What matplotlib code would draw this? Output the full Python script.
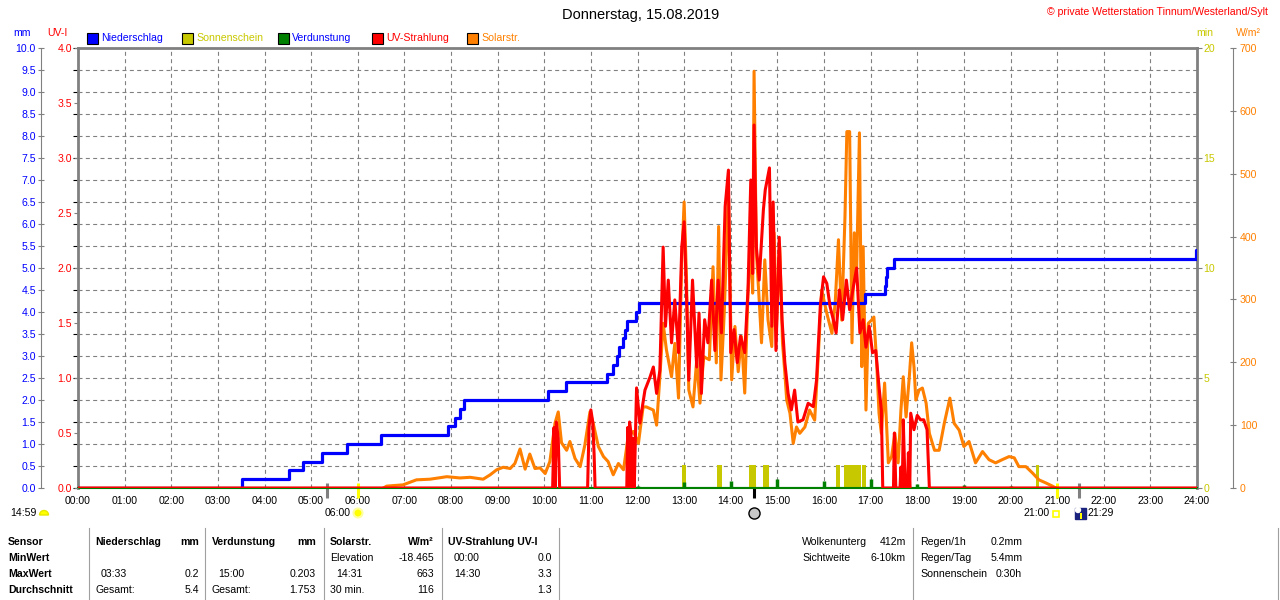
import numpy as np
import matplotlib.pyplot as plt
from matplotlib.patches import Rectangle, Circle, Wedge

W, H = 1280, 600

# x axis
hours = list(range(25))
hour_labels = [f"{h:02d}:00" for h in hours]

# Niederschlag, cumulative mm (step times in decimal hours)
rain_time = [0, 3.52, 4.53, 4.83, 5.23, 5.78, 6.49, 7.94, 8.09, 8.19, 8.27,
             10.07, 10.47, 11.34, 11.48, 11.55, 11.60, 11.68, 11.73, 11.78,
             11.96, 12.03, 16.88, 17.31, 17.34, 17.36, 17.50, 23.97, 24.0]
rain_total = [0.0, 0.2, 0.4, 0.6, 0.8, 1.0, 1.2, 1.4, 1.6, 1.8, 2.0,
              2.2, 2.4, 2.6, 2.8, 3.0, 3.2, 3.4, 3.6, 3.8,
              4.0, 4.2, 4.4, 4.6, 4.8, 5.0, 5.2, 5.4, 5.4]

# Verdunstung, mm per hour
evap_time = list(range(1, 24))
evap_mm = [0.03, 0.03, 0.03, 0.03, 0.03, 0.03, 0.03, 0.03, 0.03, 0.03, 0.03, 0.04,
           0.13, 0.15, 0.20, 0.16, 0.20, 0.09, 0.06, 0.04, 0.03, 0.03, 0.03]

# Sonnenschein blocks (start, end in hours), minutes
sun_start = [12.95, 13.70, 14.39, 14.69, 16.26, 16.43, 16.82, 20.55]
sun_end = [13.04, 13.81, 14.54, 14.82, 16.34, 16.79, 16.90, 20.61]
sun_min = [1.05, 1.05, 1.05, 1.05, 1.05, 1.05, 1.05, 1.05]

# Solarstrahlung W/m2
solar_time = [6.55, 6.62, 6.97, 7.26, 7.55, 7.91, 8.19, 8.41, 8.69, 8.84, 8.98,
              9.12, 9.27, 9.37, 9.48, 9.59, 9.69, 9.80, 9.91, 10.02, 10.12,
              10.23, 10.30, 10.37, 10.48, 10.55, 10.66, 10.77, 10.87, 10.98,
              11.05, 11.16, 11.27, 11.37, 11.48, 11.59, 11.70, 11.80, 11.91,
              12.02, 12.12, 12.19, 12.34, 12.41, 12.48, 12.55, 12.62, 12.73,
              12.80, 12.88, 12.95, 13.00, 13.05, 13.10, 13.19, 13.27, 13.34,
              13.42, 13.54, 13.62, 13.69, 13.74, 13.79, 13.86, 13.95, 14.02,
              14.09, 14.16, 14.23, 14.30, 14.37, 14.43, 14.47, 14.50, 14.55,
              14.61, 14.66, 14.73, 14.80, 14.88, 14.93, 14.98, 15.05, 15.11,
              15.16, 15.20, 15.27, 15.34, 15.41, 15.48, 15.59, 15.69, 15.80,
              15.88, 15.95, 16.06, 16.17, 16.24, 16.31, 16.38, 16.45, 16.49,
              16.55, 16.60, 16.65, 16.70, 16.76, 16.81, 16.84, 16.90, 16.95,
              17.02, 17.07, 17.13, 17.18, 17.23, 17.30, 17.38, 17.45, 17.52,
              17.59, 17.65, 17.70, 17.76, 17.83, 17.88, 17.93, 17.97, 18.04,
              18.11, 18.19, 18.26, 18.37, 18.47, 18.58, 18.70, 18.79, 18.90,
              19.00, 19.11, 19.25, 19.40, 19.54, 19.68, 19.82, 19.97, 20.08,
              20.18, 20.33, 20.47, 20.61, 20.76, 20.90, 20.97]
solar_wm2 = [0, 3, 5, 13, 14, 18, 16, 17, 14, 21, 29,
             33, 31, 39, 62, 30, 54, 31, 32, 23, 42,
             103, 121, 72, 60, 74, 47, 34, 68, 121,
             103, 66, 50, 42, 21, 39, 29, 82, 90,
             71, 129, 129, 124, 100, 177, 262, 220, 177,
             230, 143, 363, 455, 336, 156, 129, 204, 135,
             209, 204, 352, 199, 416, 172, 278, 470, 172,
             257, 185, 241, 151, 310, 390, 310, 663, 374,
             299, 231, 363, 267, 225, 406, 257, 384, 231,
             183, 140, 119, 71, 97, 87, 97, 124, 108,
             214, 315, 278, 246, 294, 395, 267, 432, 567,
             567, 231, 406, 347, 565, 193, 384, 124, 262,
             267, 272, 199, 119, 87, 167, 40, 50, 87,
             40, 124, 177, 113, 177, 231, 193, 140, 156,
             159, 135, 87, 60, 60, 103, 143, 103, 92,
             66, 74, 40, 58, 45, 40, 45, 50, 48,
             34, 34, 24, 13, 8, 3, 0]

# UV-Strahlung UV-I
uv_time = [0, 10.18, 10.21, 10.23, 10.26, 10.30, 10.33,
           10.93, 10.96, 11.00, 11.04, 11.07, 11.09,
           11.77, 11.79, 11.81, 11.83, 11.86, 11.88, 11.91, 11.93,
           11.98, 12.05, 12.16, 12.27, 12.34, 12.41, 12.48, 12.55, 12.60,
           12.66, 12.73, 12.80, 12.88, 12.95, 13.00, 13.05, 13.10, 13.18,
           13.27, 13.32, 13.37, 13.44, 13.51, 13.59, 13.66, 13.73, 13.80,
           13.88, 13.95, 14.00, 14.07, 14.14, 14.21, 14.30, 14.37, 14.43,
           14.47, 14.50, 14.55, 14.61, 14.70, 14.74, 14.83, 14.88, 14.91,
           14.97, 15.04, 15.10, 15.16, 15.23, 15.30, 15.37, 15.44, 15.55,
           15.66, 15.77, 15.84, 15.92, 15.99, 16.06, 16.13, 16.20, 16.26,
           16.33, 16.40, 16.48, 16.55, 16.63, 16.70, 16.77, 16.84, 16.90,
           16.97, 17.04, 17.11, 17.18, 17.23, 17.26, 17.49, 17.51, 17.54,
           17.63, 17.65, 17.68, 17.70, 17.74, 17.79, 17.81, 17.84, 17.86,
           17.93, 18.00, 18.07, 18.14, 18.21, 18.26, 24.0]
uv_index = [0, 0, 0.55, 0, 0.6, 0.45, 0,
            0, 0.55, 0.71, 0.6, 0.3, 0,
            0, 0.55, 0, 0.6, 0.5, 0, 0.45, 0,
            0.91, 0.59, 0.89, 1.01, 1.10, 0.86, 1.07, 2.19, 1.47,
            1.89, 1.32, 1.71, 1.23, 2.19, 2.42, 1.77, 0.98, 1.89,
            1.10, 1.59, 0.86, 1.53, 1.32, 1.89, 1.25, 1.89, 1.41,
            2.56, 2.89, 1.23, 1.44, 1.14, 1.38, 1.23, 1.80, 2.80,
            1.95, 3.30, 2.19, 1.89, 2.53, 2.71, 2.91, 1.47, 2.60,
            1.25, 2.28, 1.53, 1.14, 0.86, 0.71, 0.89, 0.60, 0.62,
            0.77, 0.74, 0.98, 1.65, 1.92, 1.86, 1.65, 1.53, 1.41,
            1.80, 1.53, 1.89, 1.62, 1.83, 2.00, 1.41, 1.53, 1.28,
            1.47, 1.23, 1.25, 0.92, 0.71, 0, 0, 0.5, 0,
            0, 0.19, 0, 0.62, 0, 0, 0.32, 0, 0.68,
            0.53, 0.66, 0.62, 0.62, 0.53, 0, 0]

# sun / moon event marks below the time axis
event_time = [5.33, 6.0, 14.5, 21.0, 21.47]
event_color = ['#808080', '#FFFF00', '#000000', '#FFFF00', '#808080']

BLUE = '#0000FF'
RED = '#FF0000'
ORANGE = '#FF8000'
OLIVE = '#C8C800'
GREEN = '#008000'
GREY = '#808080'


def fx(px):
    return px / W


def fy(py):
    return 1 - py / H


def px_in(px, py):
    # pixel (from top-left) -> inches for dpi_scale_trans
    return px / 100, (H - py) / 100


plt.rcParams['font.family'] = ['Liberation Sans', 'DejaVu Sans']
FS = 7.6

fig = plt.figure(figsize=(12.8, 6.0), dpi=100)

ax = fig.add_axes([fx(78), fy(488), fx(1197) - fx(78), fy(48) - fy(488)])
ax.set_zorder(0)
ax.set_xlim(0, 24)
ax.set_ylim(0, 10)
ax.set_xticks(hours)
ax.set_xticklabels(hour_labels, fontsize=FS)
ax.set_yticks(np.arange(0, 10.01, 0.5))
ax.tick_params(axis='y', left=False, labelleft=False)
ax.tick_params(axis='x', length=0, pad=6)
ax.grid(True, color=GREY, linestyle=(0, (3.6, 3)), linewidth=0.8)
for s in ['top', 'left', 'right']:
    ax.spines[s].set(color=GREY, linewidth=2)
ax.spines['bottom'].set(color=GREEN, linewidth=1.5)


def twin(z):
    t = ax.twinx()
    t.set_zorder(z)
    t.patch.set_visible(False)
    for s in t.spines.values():
        s.set_visible(False)
    return t


ax_sun = twin(1)
ax_sol = twin(2)
ax_mm = twin(3)
ax_uv = twin(4)

# Sonnenschein (min), right axis on the frame
ax_sun.set_ylim(0, 20)
ax_sun.set_yticks([0, 5, 10, 15, 20])
ax_sun.tick_params(axis='y', colors=GREY, labelcolor=OLIVE, labelsize=FS,
                   direction='out', length=3.6, width=0.8, pad=1.2)
ax_sun.bar(sun_start, sun_min, width=np.subtract(sun_end, sun_start),
           align='edge', color=OLIVE, linewidth=0)

# Solarstrahlung, outer right axis
ax_sol.set_ylim(0, 700)
ax_sol.set_yticks(range(0, 701, 100))
ax_sol.spines['right'].set_visible(True)
ax_sol.spines['right'].set_position(('outward', 25.9))
ax_sol.spines['right'].set(color=GREY, linewidth=0.8)
ax_sol.tick_params(axis='y', colors=GREY, labelcolor=ORANGE, labelsize=FS,
                   direction='inout', length=5, width=0.8, pad=2.5)
ax_sol.plot(solar_time, solar_wm2, color=ORANGE, linewidth=2.2)

# Niederschlag / Verdunstung, outer left axis
ax_mm.set_ylim(0, 10)
ax_mm.yaxis.tick_left()
ax_mm.set_yticks(np.arange(0, 10.01, 0.5))
ax_mm.set_yticklabels([f"{v:.1f}" for v in np.arange(0, 10.01, 0.5)])
ax_mm.spines['left'].set_visible(True)
ax_mm.spines['left'].set_position(('outward', 26.6))
ax_mm.spines['left'].set(color=GREY, linewidth=0.8)
ax_mm.tick_params(axis='y', colors=GREY, labelcolor=BLUE, labelsize=FS,
                  direction='inout', length=5, width=0.8, pad=1.2)
ax_mm.axhline(0, color=GREEN, linewidth=1.5)
ax_mm.vlines(evap_time, 0, evap_mm, color=GREEN, linewidth=2.5)
ax_mm.step(rain_time, rain_total, where='post', color=BLUE, linewidth=2.3)

# UV index, inner left axis
ax_uv.set_ylim(0, 4)
ax_uv.yaxis.tick_left()
ax_uv.set_yticks(np.arange(0, 4.01, 0.5))
ax_uv.set_yticklabels([f"{v:.1f}" for v in np.arange(0, 4.01, 0.5)])
ax_uv.tick_params(axis='y', colors=GREY, labelcolor=RED, labelsize=FS,
                  direction='out', length=3, width=0.8, pad=1.2)
ax_uv.plot(uv_time, uv_index, color=RED, linewidth=2.2)

# event ticks under the axis
ax.vlines(event_time, -0.22, 0.12, colors=event_color, linewidth=2.2, clip_on=False)
ax.plot([14.5], [-0.57], 'o', ms=8, mfc='#C8C8C8', mec='black', mew=1, clip_on=False)

# axis unit labels
fig.text(fx(22), fy(33), 'mm', color=BLUE, fontsize=FS, ha='center', va='center')
fig.text(fx(57), fy(33), 'UV-I', color=RED, fontsize=FS, ha='center', va='center')
fig.text(fx(1205), fy(33), 'min', color=OLIVE, fontsize=FS, ha='center', va='center')
fig.text(fx(1248), fy(33), 'W/m²', color=ORANGE, fontsize=FS, ha='center', va='center')

# title and copyright
fig.text(fx(641), fy(15), 'Donnerstag, 15.08.2019', fontsize=10.5, ha='center', va='center')
fig.text(fx(1268), fy(12), '© private Wetterstation Tinnum/Westerland/Sylt', color=RED,
         fontsize=FS, ha='right', va='center')

# legend
legend_items = [
    (87, BLUE, BLUE, 'Niederschlag'),
    (182, OLIVE, OLIVE, 'Sonnenschein'),
    (278, GREEN, BLUE, 'Verdunstung'),
    (372, RED, RED, 'UV-Strahlung'),
    (467, ORANGE, ORANGE, 'Solarstr.'),
]
for x0, fc, tc, label in legend_items:
    fig.add_artist(Rectangle(px_in(x0, 44), 0.11, 0.11, transform=fig.dpi_scale_trans,
                             facecolor=fc, edgecolor='black', linewidth=0.8))
    fig.text(fx(x0 + 14), fy(38), label, color=tc, fontsize=FS, ha='left', va='center')

# sun / moon times under axis
fig.text(fx(10), fy(513), '14:59', fontsize=FS, ha='left', va='center')
fig.add_artist(Wedge(px_in(44, 515), 0.045, 0, 180, transform=fig.dpi_scale_trans,
                     facecolor='#FFFF00', edgecolor='#E8E800'))
fig.text(fx(351), fy(513), '06:00', fontsize=FS, ha='right', va='center')
fig.add_artist(Circle(px_in(358, 513), 0.045, transform=fig.dpi_scale_trans,
                      facecolor='#FFFF00', edgecolor='#FFFFA0', linewidth=1.5))
fig.text(fx(1050), fy(513), '21:00', fontsize=FS, ha='right', va='center')
fig.add_artist(Rectangle(px_in(1053, 517), 0.06, 0.06, transform=fig.dpi_scale_trans,
                         facecolor='white', edgecolor='#FFFF00', linewidth=1.2))
fig.add_artist(Rectangle(px_in(1075, 519), 0.11, 0.11, transform=fig.dpi_scale_trans,
                         facecolor='#1A237E', edgecolor='#1A237E'))
fig.add_artist(Circle(px_in(1078, 510), 0.025, transform=fig.dpi_scale_trans,
                      facecolor='white', edgecolor='white'))
fig.add_artist(Rectangle(px_in(1080, 519), 0.02, 0.06, transform=fig.dpi_scale_trans,
                         facecolor='#FFFF00', edgecolor='none'))
fig.text(fx(1087), fy(513), '21:29', fontsize=FS, ha='left', va='center')

# statistics table
row_y = [542, 558, 574, 590]
for y, label in zip(row_y, ['Sensor', 'MinWert', 'MaxWert', 'Durchschnitt']):
    fig.text(fx(8), fy(y), label, fontsize=FS, fontweight='bold', ha='left', va='center')

left_cells = [
    (95, 542, 'Niederschlag', True), (212, 542, 'Verdunstung', True),
    (330, 542, 'Solarstr.', True), (448, 542, 'UV-Strahlung UV-I', True),
    (330, 558, 'Elevation', False), (454, 558, '00:00', False),
    (101, 574, '03:33', False), (218, 574, '15:00', False),
    (336, 574, '14:31', False), (454, 574, '14:30', False),
    (95, 590, 'Gesamt:', False), (212, 590, 'Gesamt:', False),
    (330, 590, '30 min.', False),
    (802, 542, 'Wolkenunterg', False), (802, 558, 'Sichtweite', False),
    (920, 542, 'Regen/1h', False), (920, 558, 'Regen/Tag', False),
    (920, 574, 'Sonnenschein', False),
    (991, 542, '0.2mm', False), (991, 558, '5.4mm', False), (996, 574, '0:30h', False),
]
for x, y, s, bold in left_cells:
    fig.text(fx(x), fy(y), s, fontsize=FS, fontweight='bold' if bold else 'normal',
             ha='left', va='center')

right_cells = [
    (199, 542, 'mm', True), (316, 542, 'mm', True), (434, 542, 'W/m²', True),
    (434, 558, '-18.465', False), (552, 558, '0.0', False),
    (199, 574, '0.2', False), (316, 574, '0.203', False),
    (434, 574, '663', False), (552, 574, '3.3', False),
    (199, 590, '5.4', False), (316, 590, '1.753', False),
    (434, 590, '116', False), (552, 590, '1.3', False),
    (906, 542, '412m', False), (906, 558, '6-10km', False),
]
for x, y, s, bold in right_cells:
    fig.text(fx(x), fy(y), s, fontsize=FS, fontweight='bold' if bold else 'normal',
             ha='right', va='center')

for x in [89, 205, 324, 442, 559, 913, 1278]:
    fig.add_artist(plt.Line2D([fx(x), fx(x)], [fy(528), fy(600)], color='#A0A0A0',
                              linewidth=0.8, transform=fig.transFigure))

fig.savefig('out.png', dpi=100)
